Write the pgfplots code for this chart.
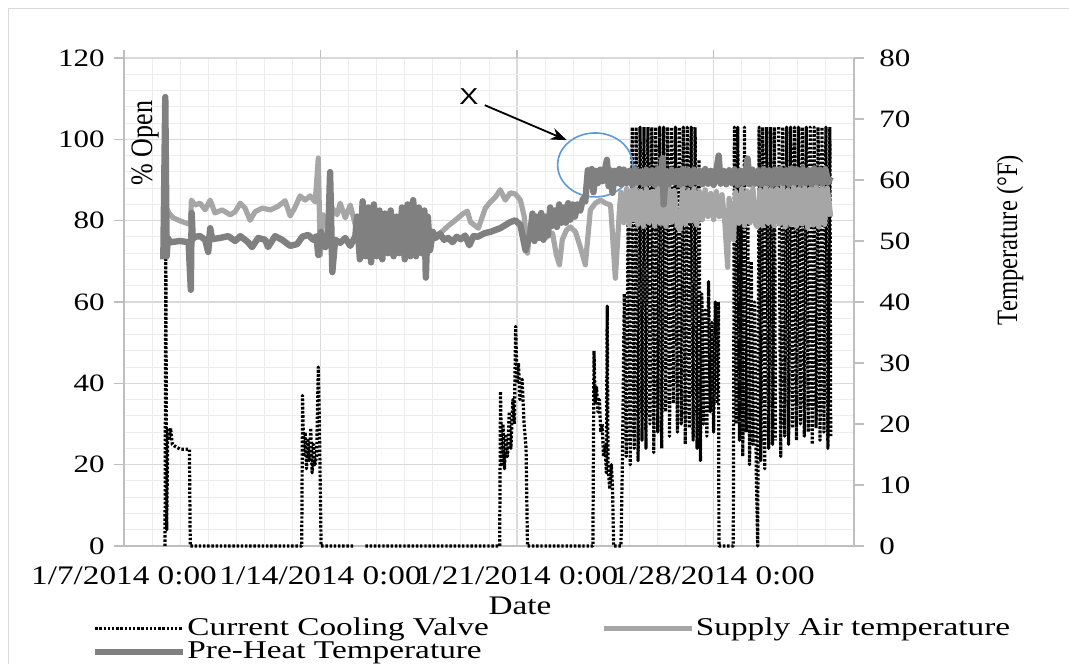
\documentclass[border=0pt]{standalone}
\usepackage{pgfplots}
\pgfplotsset{compat=1.18}
\usetikzlibrary{arrows.meta}
\usepackage{fontspec}
\setmainfont{Liberation Serif}
\newfontfamily\sansX{Liberation Sans}
\usepackage{graphicx}
\newcommand{\sx}[1]{\scalebox{1.24}[1]{#1}}
\newcommand{\lx}[1]{\scalebox{1.3}[1]{#1}}
\definecolor{supply}{HTML}{A6A6A6}
\definecolor{preheat}{HTML}{808080}
\definecolor{gridmaj}{HTML}{D9D9D9}
\definecolor{gridmin}{HTML}{EDEDED}
\definecolor{axisgray}{HTML}{BFBFBF}
\definecolor{circ}{HTML}{5B9BD5}
\tikzset{valve/.style={black, line width=1.6pt, dash pattern=on 1.2pt off 0.9pt, line join=round}}
\begin{document}
\fontsize{13.4}{15}\selectfont
\begin{tikzpicture}
\path[use as bounding box] (-62pt,-59pt) rectangle (472.5pt,273pt);
\draw[gray!30] (-58pt,-59pt) -- (-58pt,269pt) -- (472.5pt,269pt);
\begin{axis}[
  at={(0,0)}, anchor=south west,
  scale only axis, width=365pt, height=244pt,
  xmin=0, xmax=26, ymin=0, ymax=120,
  axis y line*=left, axis x line*=bottom,
  axis line style={-, axisgray, line width=0.6pt},
  ytick={0,20,...,120}, minor ytick={4,8,...,116},
  xtick={0,7,14,21}, minor xtick={1,2,...,26},
  xticklabels={\sx{1/7/2014 0:00},\sx{1/14/2014 0:00},\sx{1/21/2014 0:00},\sx{1/28/2014 0:00}},
  grid=both,
  major grid style={gridmaj, line width=0.6pt},
  minor grid style={gridmin, line width=0.5pt},
  xtick style={draw=none}, minor tick length=0pt,
  ytick style={axisgray, line width=0.6pt},
  tick align=outside, major tick length=5pt,
  /pgf/number format/assume math mode=true,
  yticklabel={\sx{\pgfmathprintnumber{\tick}}},
  yticklabel style={font=\fontsize{12.5}{13}\selectfont},
  xticklabel style={font=\fontsize{13.4}{14}\selectfont, anchor=base, yshift=-14pt},
  clip=false, unbounded coords=jump,
]
\addplot[valve] coordinates {
(1.46,0) (1.49,72) (1.52,4) (1.56,29) (1.61,26) (1.66,29) (1.72,25) (1.82,24.5) (2.00,23.8) (2.33,23.8) (2.36,0)
(6.33,0) (6.36,37) (6.40,22) (6.45,28) (6.50,19) (6.55,26) (6.60,21) (6.65,29) (6.70,18) (6.75,25) (6.80,20) (6.86,22) (6.92,44) (6.96,30) (7.02,0) (8.20,0) (8.40,nan) (8.60,0)
(13.38,0) (13.41,38) (13.45,20) (13.50,30) (13.55,19) (13.60,27) (13.66,22) (13.72,33) (13.78,24) (13.85,36) (13.90,30) (13.95,54) (14.00,40) (14.05,45) (14.10,36) (14.18,41) (14.25,30) (14.32,24) (14.37,0)
(16.70,0) (16.74,48) (16.78,35) (16.83,39) (16.88,33) (16.93,36) (16.98,28) (17.03,30) (17.08,22) (17.13,25) (17.18,18) (17.21,59) (17.24,20) (17.30,14) (17.36,20) (17.40,14) (17.44,0) (17.70,0)
(17.75,20) (17.82,62) (17.89,22) (17.96,85) (18.03,20) (18.10,103) (18.17,24) (18.24,103) (18.31,21) (18.38,103) (18.45,26) (18.52,103) (18.59,24) (18.66,103) (18.73,30) (18.80,103) (18.87,23) (18.94,103) (19.01,28) (19.08,103) (19.15,24) (19.22,103) (19.29,33) (19.36,103) (19.43,27) (19.50,103) (19.57,35) (19.64,103) (19.71,28) (19.78,103) (19.85,30) (19.92,103) (19.99,25) (20.06,103) (20.13,29) (20.20,103) (20.27,26) (20.34,103) (20.41,24) (20.48,95) (20.53,21)
(20.58,62) (20.64,30) (20.70,58) (20.76,27) (20.82,65) (20.88,33) (20.94,55) (21.00,28) (21.06,60) (21.12,35) (21.17,60) (21.19,0) (21.70,0)
(21.74,103) (21.80,30) (21.86,103) (21.92,26) (21.98,90) (22.04,22) (22.10,103) (22.16,28) (22.22,80) (22.28,20) (22.34,70) (22.40,25) (22.46,60) (22.52,18) (22.57,0) (22.62,103) (22.68,21) (22.75,103) (22.82,19) (22.89,103) (22.96,24) (23.03,103) (23.10,25) (23.17,103) (23.20,26) (23.26,nan)
(23.32,103) (23.39,22) (23.46,103) (23.53,27) (23.60,103) (23.67,25) (23.74,103) (23.81,29) (23.88,103) (23.95,26) (24.02,103) (24.09,30) (24.16,103) (24.23,27) (24.30,103) (24.37,28) (24.44,103) (24.51,25) (24.58,103) (24.65,29) (24.72,103) (24.79,26) (24.86,103) (24.93,28) (25.00,103) (25.07,24) (25.14,103) (25.17,27)
};
\pgfplotsinvokeforeach{0,7,14,21}{\draw[axisgray, line width=0.6pt] (axis cs:#1,120) -- ++(0,4pt);}
\draw[circ, line width=0.8pt] (axis cs:16.78,93.7) ellipse [x radius=18.75pt, y radius=16pt];
\draw[-{Stealth[length=8pt,width=6pt]}, line width=0.9pt] (axis cs:12.85,108.4) -- (axis cs:15.77,99.8);
\node[font=\sansX\fontsize{11.5}{12}\selectfont] at (axis cs:12.28,110.6) {\sx{X}};
\node[rotate=90] at (axis cs:0.75,99.1) {\scalebox{1}[1.2]{\fontsize{13}{14}\selectfont\% Open}};
\node at (rel axis cs:0.5425,-0.123) {\sx{Date}};
\end{axis}
\begin{axis}[
  at={(0,0)}, anchor=south west,
  scale only axis, width=365pt, height=244pt,
  xmin=0, xmax=26, ymin=0, ymax=80,
  axis x line=none, axis y line*=right,
  axis line style={-, axisgray, line width=0.6pt},
  ytick={0,10,...,80},
  ytick style={axisgray, line width=0.6pt},
  tick align=outside, major tick length=5pt,
  /pgf/number format/assume math mode=true,
  yticklabel={\sx{\pgfmathprintnumber{\tick}}},
  yticklabel style={font=\fontsize{12.5}{13}\selectfont, xshift=3pt},
  clip=false,
  legend columns=2,
  legend cell align=left,
  legend image code/.code={\draw[#1] (0pt,0pt) -- (44pt,0pt);},
  legend style={at={(-0.0438,-0.145)}, anchor=north west, draw=none, fill=none,
    inner sep=0pt, outer sep=0pt, font=\fontsize{12.8}{13.5}\selectfont,
    nodes={inner sep=0.5pt}, row sep=0pt,
    /tikz/every even column/.append style={column sep=56pt}},
]
\addlegendimage{valve}
\addlegendentry{\lx{Current Cooling Valve}}
\addplot[supply, line width=2.6pt, line join=round] coordinates {
(1.45,55) (1.50,55.5) (1.60,54.6) (1.75,53.8) (2.00,53.3) (2.30,52.8) (2.37,53) (2.40,56.7)
(2.53,55.9) (2.71,56.2) (2.89,55.1) (3.07,56.7) (3.24,54.6) (3.49,55.1) (3.78,54.3) (3.96,54.8) (4.14,56.2) (4.31,55.4) (4.49,53.4) (4.67,54.8) (4.92,55.4) (5.21,55.1) (5.49,55.7) (5.74,56.6) (5.92,54.1) (6.10,55.6) (6.27,57.4) (6.45,56.7) (6.63,57.4) (6.81,56.4) (6.92,63.6) (6.99,47.7) (7.09,54.3) (7.24,52.3) (7.42,55.4) (7.59,54.3) (7.70,56.2) (7.88,53.8) (8.06,55.9) (8.24,52.6) (8.48,49.7)
(8.77,50.2) (9.13,51) (9.66,50.5) (10.20,50.8) (10.73,50.2) (11.09,50.8) (11.27,51.3) (11.55,52.5) (11.80,53.4) (12.05,54.4) (12.23,54.9) (12.34,53.1) (12.62,52.1) (12.87,55.4) (13.05,56.4) (13.23,57.2) (13.40,58.4) (13.58,56.7) (13.76,57.9) (13.94,57.7) (14.12,56.7) (14.26,53.9) (14.37,48) (14.47,52.3) (14.72,51) (15.01,50.5) (15.26,51.3) (15.40,47.7) (15.51,46.1) (15.61,50.2) (15.76,51.8) (15.90,52.3) (16.08,51.5) (16.26,48.9) (16.43,46.1) (16.61,55.1) (16.79,56.2) (16.97,56.7) (17.15,56.2) (17.33,55.9) (17.50,43.9) (17.65,55.4)
(17.70,58) (17.80,53) (17.90,58.6) (18.00,52.6) (18.10,58.4) (18.15,53.5) (18.20,58.8) (18.30,52.7) (18.40,58.2) (18.50,52.4) (18.60,58.6) (18.70,53) (18.80,58.1) (18.90,52.5) (19.00,58.8) (19.10,52.9) (19.20,58.4) (19.30,52.4) (19.40,58.6) (19.50,53.1) (19.60,58.3) (19.70,52.5) (19.80,51.8) (19.90,58.7) (20.00,52.8) (20.10,58.2) (20.20,53.3) (20.30,58.6) (20.40,52.6) (20.50,58.1) (20.60,53.5) (20.70,58.4) (20.80,54) (20.90,57.8) (21.00,53.5) (21.10,58.1) (21.20,54) (21.30,57.6) (21.40,53) (21.50,45.7) (21.55,57) (21.65,53.5) (21.71,50.2) (21.78,58.1) (21.90,52.9) (22.00,58.6) (22.10,52.5) (22.20,58.2) (22.30,53) (22.40,58.6) (22.50,52.7) (22.57,52.3) (22.65,58.4) (22.75,52.5) (22.85,58.8) (22.95,52.9) (23.05,58.5) (23.15,52.5) (23.25,58.6) (23.35,52.8) (23.45,58.8) (23.55,52.3) (23.65,58.4) (23.75,52.7) (23.85,58.9) (23.95,52.4) (24.05,58.6) (24.15,52.8) (24.25,58.8) (24.35,52.2) (24.45,58.5) (24.55,52.6) (24.65,58.9) (24.75,52.3) (24.85,58.6) (24.95,52.7) (25.05,58.7) (25.17,54)
};
\addlegendentry{\lx{Supply Air temperature}}
\addplot[preheat, line width=3.2pt, line join=round] coordinates {
(1.40,47) (1.47,73.6) (1.52,47.5) (1.56,50.5) (1.65,49.8) (2.00,50) (2.30,49.8) (2.38,42) (2.41,54.6) (2.45,50.3)
(2.53,50.7) (2.71,50.8) (2.89,50.2) (3.00,48.2) (3.07,52.1) (3.14,50.3) (3.42,50.5) (3.71,50.8) (3.96,50.0) (4.14,50.8) (4.42,49.8) (4.56,49.0) (4.78,50.5) (5.03,50.2) (5.13,49.0) (5.38,50.8) (5.63,50.2) (5.92,49.2) (6.17,49.5) (6.35,50.7) (6.56,51) (6.74,50.2) (6.85,50.8) (6.92,47.7) (7.02,51.5) (7.17,49) (7.27,50.2) (7.34,61.3) (7.42,44.9) (7.52,50.2) (7.70,49.7) (7.88,50.5) (8.06,49.2) (8.24,50.8)
(8.30,54) (8.40,47) (8.50,56.5) (8.60,47.5) (8.70,55.5) (8.80,46.5) (8.90,56) (9.00,47.5) (9.10,55) (9.20,47) (9.30,54.5) (9.40,48) (9.50,55) (9.60,47.5) (9.70,54) (9.80,48) (9.90,55.5) (10.00,47) (10.10,56) (10.20,47.5) (10.30,56.7) (10.40,47.5) (10.50,55.5) (10.60,48) (10.70,55) (10.75,44) (10.82,54) (10.90,48.5) (11.00,51.5)
(11.10,50.5) (11.25,51.2) (11.40,50.2) (11.55,50.5) (11.70,49.8) (11.85,50.7) (12.00,50.3) (12.15,50.9) (12.30,49.3) (12.45,50.8) (12.60,50.7) (12.85,51.3) (13.05,51.5) (13.40,52.1) (13.58,52.6) (13.76,53.1) (13.94,53.4) (14.12,52.6) (14.30,48.5) (14.47,51.3)
(14.55,54.5) (14.62,50) (14.70,54) (14.78,50.5) (14.86,54.6) (14.94,50.2) (15.02,54) (15.10,51) (15.18,55.5) (15.26,52.5) (15.34,55) (15.42,52.3) (15.50,56) (15.58,53) (15.66,55.5) (15.74,53) (15.82,56.2) (15.90,53.5) (15.98,56) (16.06,54) (16.15,56) (16.25,55) (16.35,57) (16.43,56.5)
(16.52,61.6) (16.60,60) (16.66,61.8) (16.72,58) (16.80,61.5) (16.88,59.5) (16.96,61.7) (17.04,59.8) (17.12,61.5) (17.20,63.3) (17.26,59) (17.32,61.6) (17.40,57.9) (17.48,61.5) (17.56,59.5) (17.64,61.8)
(17.70,59.3) (17.80,61.7) (17.90,59.5) (18.00,61.5) (18.10,59.2) (18.20,61.8) (18.30,59.6) (18.40,61.4) (18.50,59.3) (18.60,61.7) (18.70,59.5) (18.80,61.6) (18.90,59.2) (19.00,61.8) (19.10,59.4) (19.18,63.6) (19.22,56) (19.30,61.5) (19.40,59.3) (19.50,61.7) (19.60,59.6) (19.70,61.5) (19.80,59.2) (19.90,61.8) (20.00,59.5) (20.10,61.6) (20.20,59.3) (20.30,61.7) (20.40,59.6) (20.50,61.5) (20.60,59.3) (20.70,61.8) (20.80,59.4) (20.90,61.5) (21.00,59.2) (21.10,61.6) (21.18,64) (21.25,59.4) (21.35,61.5) (21.45,59.3) (21.55,61.6) (21.65,59.5) (21.75,61.7) (21.85,59.2) (21.95,61.5) (22.05,59.5) (22.15,61.6) (22.21,63.5) (22.28,59.3) (22.38,61.7) (22.48,59.4) (22.58,61.5) (22.68,59.3) (22.78,61.8) (22.88,59.5) (22.98,61.6) (23.08,59.2) (23.18,61.7) (23.28,59.4) (23.38,61.8) (23.48,59.5) (23.58,61.6) (23.68,59.3) (23.78,61.9) (23.88,59.6) (23.98,61.7) (24.08,59.4) (24.18,61.8) (24.28,59.5) (24.38,61.6) (24.48,59.3) (24.58,61.9) (24.68,59.6) (24.78,61.7) (24.88,59.4) (24.98,61.8) (25.08,59.6) (25.17,60.5)
};
\addlegendentry{\lx{Pre-Heat Temperature}}
\node[rotate=90] at (rel axis cs:1.2137,0.627) {\scalebox{1}[1.2]{\fontsize{12.3}{13}\selectfont Temperature (°F)}};
\end{axis}
\end{tikzpicture}
\end{document}
